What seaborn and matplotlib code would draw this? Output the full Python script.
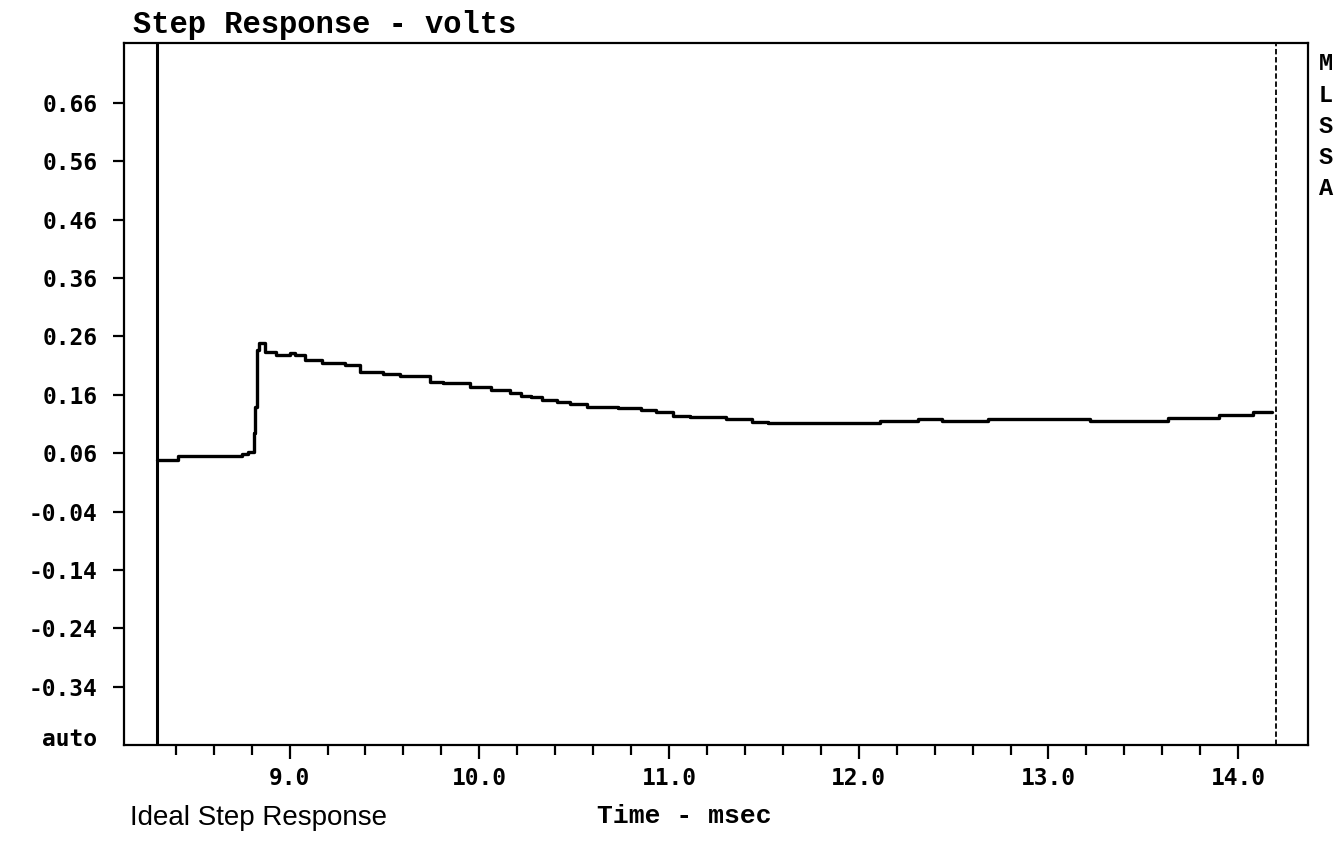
import numpy as np
import pandas as pd
import seaborn as sns
import matplotlib.pyplot as plt

# step response (time in msec, volts)
time_ms = [8.30, 8.41, 8.75, 8.78, 8.81, 8.82, 8.83, 8.84, 8.87, 8.93,
           9.00, 9.03, 9.08, 9.17, 9.29, 9.37, 9.49, 9.58, 9.74, 9.81,
           9.95, 10.06, 10.16, 10.22, 10.27, 10.33, 10.41, 10.48, 10.57, 10.73,
           10.85, 10.93, 11.02, 11.11, 11.30, 11.44, 11.52, 12.11, 12.31, 12.44,
           12.68, 13.22, 13.63, 13.90, 14.08, 14.18]
volts = [0.048, 0.055, 0.058, 0.062, 0.095, 0.140, 0.237, 0.249, 0.234, 0.229,
         0.232, 0.229, 0.220, 0.215, 0.212, 0.200, 0.196, 0.192, 0.182, 0.180,
         0.174, 0.168, 0.163, 0.158, 0.156, 0.152, 0.148, 0.145, 0.140, 0.137,
         0.134, 0.130, 0.124, 0.122, 0.118, 0.114, 0.111, 0.115, 0.118, 0.115,
         0.119, 0.116, 0.120, 0.126, 0.130, 0.130]

y_ticks = [0.66, 0.56, 0.46, 0.36, 0.26, 0.16, 0.06, -0.04, -0.14, -0.24, -0.34]
x_major = [9.0, 10.0, 11.0, 12.0, 13.0, 14.0]
x_minor = [8.4, 8.6, 8.8, 9.2, 9.4, 9.6, 9.8, 10.2, 10.4, 10.6, 10.8,
           11.2, 11.4, 11.6, 11.8, 12.2, 12.4, 12.6, 12.8, 13.2, 13.4, 13.6, 13.8]
cursor_left = 8.30
cursor_right = 14.20

df = pd.DataFrame({"t": time_ms, "v": volts})

sns.set_style("white")
plt.rcParams.update({"text.color": "black", "xtick.color": "black",
                     "ytick.color": "black", "axes.edgecolor": "black"})
mono = ["DejaVu Sans Mono"]

fig = plt.figure(figsize=(13.37, 8.41), dpi=100)
ax = fig.add_axes([0.0927, 0.1142, 0.8856, 0.8347])

sns.lineplot(data=df, x="t", y="v", ax=ax, color="black", linewidth=2.4,
             drawstyle="steps-post", estimator=None, sort=False)

ax.axvline(cursor_left, color="black", linewidth=2.2)
ax.axvline(cursor_right, color="black", linewidth=1.3, linestyle=(0, (3, 1.5)))

ax.set_xlim(8.127, 14.368)
ax.set_ylim(-0.4395, 0.7626)

ax.set_yticks(y_ticks)
ax.set_yticklabels([f"{v:.2f}" for v in y_ticks])
ax.set_xticks(x_major)
ax.set_xticklabels([f"{v:.1f}" for v in x_major])
ax.set_xticks(x_minor, minor=True)

for s in ax.spines.values():
    s.set_color("black")
    s.set_linewidth(1.6)

ax.tick_params(axis="y", direction="out", length=8, width=1.6, pad=11,
               left=True, right=False, colors="black")
ax.tick_params(axis="x", which="major", direction="out", length=10, width=1.6,
               pad=6, bottom=True, colors="black")
ax.tick_params(axis="x", which="minor", direction="out", length=7, width=1.6,
               bottom=True, colors="black")
for lab in ax.get_yticklabels() + ax.get_xticklabels():
    lab.set_family(mono)
    lab.set_fontweight("bold")
    lab.set_fontsize(16.5)

ax.set_xlabel("")
ax.set_ylabel("")

ax.text(-0.0225, 0.008, "auto", transform=ax.transAxes, ha="right", va="center",
        family=mono, fontweight="bold", fontsize=16.5, color="black")

fig.text(0.0995, 0.970, "Step Response - volts", ha="left", va="center",
         family=["Liberation Mono"], fontweight="bold", fontsize=22, color="black")
fig.text(0.512, 0.030, "Time - msec", ha="center", va="center",
         family=["Liberation Mono"], fontweight="bold", fontsize=19, color="black")
fig.text(0.097, 0.027, "Ideal Step Response", ha="left", va="center",
         family=["Liberation Sans"], fontsize=20, color="black")
fig.text(0.9915, 0.850, "M\nL\nS\nS\nA", ha="center", va="center",
         family=["Liberation Mono"], fontweight="bold", fontsize=17,
         linespacing=1.45, color="black")

fig.savefig("out.png", dpi=100)
